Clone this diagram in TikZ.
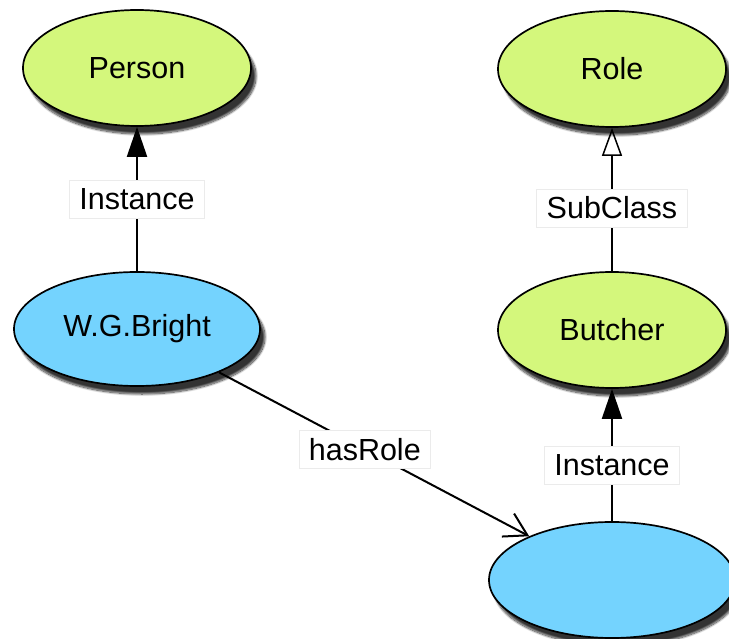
\documentclass[tikz,border=0pt]{standalone}
\usepackage{fontspec}
\setmainfont{Liberation Sans}
\usetikzlibrary{shapes.geometric,arrows.meta,shadows.blur}
\definecolor{classgreen}{RGB}{212,247,124}
\definecolor{indivblue}{RGB}{116,211,254}
\begin{document}
\begin{tikzpicture}[x=1pt,y=-1pt,
  every node/.style={font=\fontsize{30.5}{36}\selectfont},
  concept/.style={ellipse, draw=black, line width=1.7pt, inner sep=0pt,
    minimum width=228pt, minimum height=116pt,
    blur shadow={shadow xshift=5pt, shadow yshift=-8pt, shadow blur steps=14, shadow opacity=80}},
  cls/.style={concept, fill=classgreen},
  indiv/.style={concept, fill=indivblue},
  tag/.style={fill=white, draw=black!8, line width=0.6pt, inner xsep=10pt, inner ysep=3pt,
    minimum height=38pt},
  link/.style={line width=2pt},
  instof/.style={link, -{Triangle[length=30pt,width=20pt]}},
  subof/.style={link, -{Triangle[open,length=28pt,width=20pt,line width=1.5pt]}},
  rel/.style={link, -{Straight Barb[length=22pt,width=26pt,line width=2pt]}}]
\useasboundingbox (0,0) rectangle (729,639);

% classes
\node[cls] (person) at (137,68) {Person};
\node[cls] (role) at (612,69) {Role};
\node[cls] (butcher) at (612,330) {Butcher};

% individuals
\node[indiv, minimum width=246pt, minimum height=114pt] (bright) at (137,329) {W.G.Bright};
\node[indiv, minimum width=246pt, minimum height=116pt] (anon) at (612,580) {};

% relations
\draw[instof] (bright) -- node[tag] {Instance} (person);
\draw[subof] (butcher) -- node[tag, pos=0.44] {SubClass} (role);
\draw[instof] (anon) -- node[tag, pos=0.42] {Instance} (butcher);
\draw[rel] (bright) -- node[tag, pos=0.47] {hasRole} (anon);
\end{tikzpicture}
\end{document}
